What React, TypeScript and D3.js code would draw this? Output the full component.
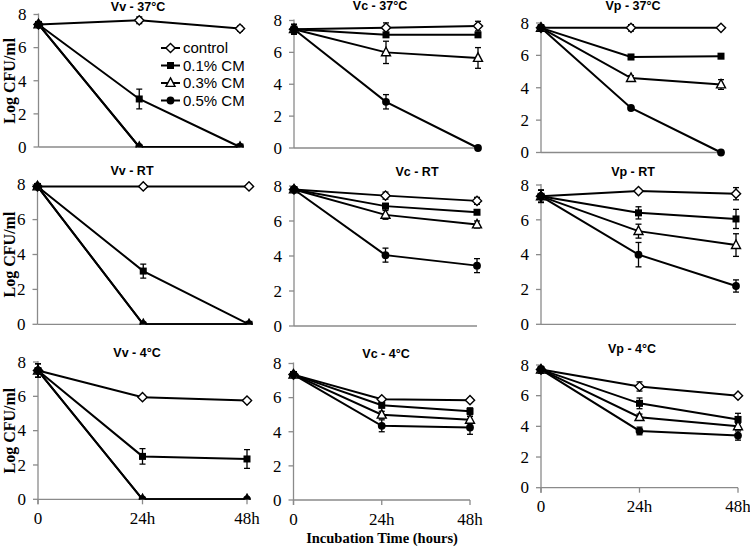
import React from "react";
import * as d3 from "d3";

const timeValues = [0, 24, 48];
const timeLabels = ["0", "24h", "48h"];
const yTicks = [0, 2, 4, 6, 8];
const seriesNames = ["control", "0.1% CM", "0.3% CM", "0.5% CM"];
const panelTitles = [
  "Vv - 37°C", "Vc - 37°C", "Vp - 37°C",
  "Vv - RT", "Vc - RT", "Vp - RT",
  "Vv - 4°C", "Vc - 4°C", "Vp - 4°C",
];

// values: [control, 0.1%, 0.3%, 0.5%] x [0, 24h, 48h]
const vv37 = [[7.4, 7.65, 7.15], [7.4, 2.9, 0], [7.4, 0, 0], [7.4, 0, 0]];
const vv37Err = [[0.1, 0.2, 0.15], [0.1, 0.6, 0], [0.1, 0, 0], [0.1, 0, 0]];
const vc37 = [[7.45, 7.55, 7.65], [7.45, 7.1, 7.1], [7.45, 6.0, 5.65], [7.45, 2.9, 0]];
const vc37Err = [[0.3, 0.3, 0.3], [0.3, 0.1, 0.1], [0.3, 0.7, 0.65], [0.3, 0.45, 0]];
const vp37 = [[7.7, 7.7, 7.7], [7.7, 5.9, 5.95], [7.7, 4.6, 4.2], [7.7, 2.75, 0]];
const vp37Err = [[0.2, 0.2, 0.1], [0.2, 0.15, 0.1], [0.2, 0.15, 0.3], [0.2, 0.1, 0]];
const vvRT = [[7.9, 7.9, 7.9], [7.9, 3.05, 0], [7.9, 0, 0], [7.9, 0, 0]];
const vvRTErr = [[0.1, 0.1, 0.1], [0.1, 0.4, 0], [0.1, 0, 0], [0.1, 0, 0]];
const vcRT = [[7.8, 7.45, 7.15], [7.8, 6.85, 6.5], [7.8, 6.35, 5.8], [7.8, 4.05, 3.45]];
const vcRTErr = [[0.1, 0.2, 0.2], [0.1, 0.15, 0.1], [0.1, 0.25, 0.2], [0.1, 0.4, 0.4]];
const vpRT = [[7.35, 7.65, 7.5], [7.35, 6.4, 6.05], [7.35, 5.35, 4.55], [7.35, 4.0, 2.2]];
const vpRTErr = [[0.35, 0.1, 0.35], [0.35, 0.35, 0.55], [0.35, 0.4, 0.65], [0.35, 0.7, 0.35]];
const vv4 = [[7.5, 5.95, 5.75], [7.5, 2.5, 2.35], [7.5, 0, 0], [7.5, 0, 0]];
const vv4Err = [[0.4, 0.1, 0.1], [0.4, 0.45, 0.55], [0.4, 0, 0], [0.4, 0, 0]];
const vc4 = [[7.35, 5.9, 5.85], [7.35, 5.55, 5.2], [7.35, 5.0, 4.7], [7.35, 4.35, 4.25]];
const vc4Err = [[0.15, 0.1, 0.1], [0.15, 0.15, 0.2], [0.15, 0.2, 0.2], [0.15, 0.35, 0.4]];
const vp4 = [[7.7, 6.6, 6.0], [7.7, 5.5, 4.45], [7.7, 4.6, 4.0], [7.7, 3.7, 3.4]];
const vp4Err = [[0.2, 0.3, 0.1], [0.2, 0.35, 0.4], [0.2, 0.2, 0.2], [0.2, 0.25, 0.3]];

const panelValues = [vv37, vc37, vp37, vvRT, vcRT, vpRT, vv4, vc4, vp4];
const panelErrors = [vv37Err, vc37Err, vp37Err, vvRTErr, vcRTErr, vpRTErr, vv4Err, vc4Err, vp4Err];

// layout: pixel frames of each panel (x at 0h, x at 48h, y at 0, y at 8, title pos)
const layout = [
  { x0: 38.5, x1: 240, yb: 147, yt: 14.5, tx: 138, ty: 11 },
  { x0: 294, x1: 478, yb: 148, yt: 20.5, tx: 380, ty: 10 },
  { x0: 541, x1: 721, yb: 152.5, yt: 23, tx: 633, ty: 10 },
  { x0: 37.5, x1: 249, yb: 324.3, yt: 184.7, tx: 132, ty: 175 },
  { x0: 294, x1: 477, yb: 326, yt: 186, tx: 417, ty: 176 },
  { x0: 541, x1: 736, yb: 324.3, yt: 185, tx: 633, ty: 176 },
  { x0: 38, x1: 247, yb: 499.3, yt: 362, tx: 137, ty: 357 },
  { x0: 293.5, x1: 470, yb: 500, yt: 363.5, tx: 386, ty: 358 },
  { x0: 541, x1: 738, yb: 487.7, yt: 365, tx: 632, ty: 353 },
];

const AXIS = "#8a8a8a";
const SERIF = "'Liberation Serif', 'Times New Roman', Times, serif";
const SANS = "'Liberation Sans', Arial, Helvetica, sans-serif";

function Marker({ kind, x, y }: { kind: number; x: number; y: number }) {
  if (kind === 0) {
    const r = 4.6;
    return (
      <path
        d={`M${x},${y - r}L${x + r},${y}L${x},${y + r}L${x - r},${y}Z`}
        fill="#fff"
        stroke="#000"
        strokeWidth={1.4}
      />
    );
  }
  if (kind === 1) {
    const s = 7;
    return <rect x={x - s / 2} y={y - s / 2} width={s} height={s} fill="#000" />;
  }
  if (kind === 2) {
    const h = 8.5;
    const w = 9;
    return (
      <path
        d={`M${x},${y - h * 0.6}L${x + w / 2},${y + h * 0.4}L${x - w / 2},${y + h * 0.4}Z`}
        fill="#fff"
        stroke="#000"
        strokeWidth={1.4}
      />
    );
  }
  return <circle cx={x} cy={y} r={3.9} fill="#000" />;
}

function Panel({ idx }: { idx: number }) {
  const L = layout[idx];
  const values = panelValues[idx];
  const errs = panelErrors[idx];
  const x = d3.scaleLinear().domain([0, 48]).range([L.x0, L.x1]);
  const y = d3.scaleLinear().domain([0, 8]).range([L.yb, L.yt]);
  const line = d3
    .line<number>()
    .x((_, i) => x(timeValues[i]))
    .y((d) => y(d));
  const col = idx % 3;
  const row = Math.floor(idx / 3);
  const bottom = row === 2;
  const clipZero = col === 0;
  const clipId = `clip-${idx}`;
  return (
    <g>
      <defs>
        <clipPath id={clipId}>
          <rect x={L.x0 - 10} y={0} width={L.x1 - L.x0 + 20} height={y(0) + 0.5} />
        </clipPath>
      </defs>
      {/* axes */}
      <line x1={L.x0} x2={L.x0} y1={y(8) - 1} y2={y(0) + (bottom ? 5 : 0)} stroke={AXIS} strokeWidth={1.3} />
      <line x1={L.x0} x2={L.x1} y1={y(0)} y2={y(0)} stroke={AXIS} strokeWidth={1.3} />
      {yTicks.map((t) => (
        <g key={t}>
          <line x1={L.x0 - 5} x2={L.x0} y1={y(t)} y2={y(t)} stroke={AXIS} strokeWidth={1.3} />
          <text
            x={L.x0 - 12}
            y={y(t)}
            dy="0.34em"
            textAnchor="end"
            fontFamily={SERIF}
            fontSize={17}
            fill="#000"
          >
            {t}
          </text>
        </g>
      ))}
      {bottom &&
        timeValues.map((t, i) => (
          <g key={t}>
            <line x1={x(t)} x2={x(t)} y1={y(0)} y2={y(0) + 5} stroke={AXIS} strokeWidth={1.3} />
            <text
              x={x(t)}
              y={y(0) + 24.5}
              textAnchor="middle"
              fontFamily={SERIF}
              fontSize={17}
              fill="#000"
            >
              {timeLabels[i]}
            </text>
          </g>
        ))}
      {/* title */}
      <text
        x={L.tx}
        y={L.ty}
        textAnchor="middle"
        fontFamily={SANS}
        fontWeight="bold"
        fontSize={12.5}
        fill="#000"
      >
        {panelTitles[idx]}
      </text>
      {col === 0 && (
        <text
          transform={`translate(15,${(y(0) + y(8)) / 2}) rotate(-90)`}
          textAnchor="middle"
          fontFamily={SERIF}
          fontWeight="bold"
          fontSize={16}
          fill="#000"
        >
          Log CFU/ml
        </text>
      )}
      <g clipPath={clipZero ? `url(#${clipId})` : undefined}>
        {/* series lines */}
        {values.map((s, si) => (
          <path key={"l" + si} d={line(s) || ""} fill="none" stroke="#000" strokeWidth={2} />
        ))}
        {/* error bars */}
        {values.map((s, si) =>
          s.map((v, i) => {
            const e = errs[si][i];
            if (!e) return null;
            const cx = x(timeValues[i]);
            return (
              <g key={`e${si}-${i}`} stroke="#000" strokeWidth={1.3}>
                <line x1={cx} x2={cx} y1={y(v - e)} y2={y(v + e)} />
                <line x1={cx - 3} x2={cx + 3} y1={y(v - e)} y2={y(v - e)} />
                <line x1={cx - 3} x2={cx + 3} y1={y(v + e)} y2={y(v + e)} />
              </g>
            );
          })
        )}
        {/* markers */}
        {values.map((s, si) =>
          s.map((v, i) => <Marker key={`m${si}-${i}`} kind={si} x={x(timeValues[i])} y={y(v)} />)
        )}
      </g>
    </g>
  );
}

function Legend() {
  const lx0 = 161;
  const lx1 = 180;
  const ys = [48, 65.5, 83, 100.5];
  return (
    <g>
      {seriesNames.map((name, i) => (
        <g key={name}>
          <line x1={lx0} x2={lx1} y1={ys[i]} y2={ys[i]} stroke="#000" strokeWidth={2} />
          <Marker kind={i} x={(lx0 + lx1) / 2} y={ys[i]} />
          <text
            x={183}
            y={ys[i]}
            dy="0.36em"
            fontFamily={SANS}
            fontSize={15}
            fill="#000"
          >
            {name}
          </text>
        </g>
      ))}
    </g>
  );
}

export default function App() {
  return (
    <svg
      width={750}
      height={547}
      style={{ position: "absolute", left: 0, top: 0, background: "#fff" }}
    >
      <rect width={750} height={547} fill="#fff" />
      {panelTitles.map((_, i) => (
        <Panel key={i} idx={i} />
      ))}
      <Legend />
      <text
        x={382}
        y={542.5}
        textAnchor="middle"
        fontFamily={SERIF}
        fontWeight="bold"
        fontSize={14.5}
        fill="#000"
      >
        Incubation Time (hours)
      </text>
    </svg>
  );
}
